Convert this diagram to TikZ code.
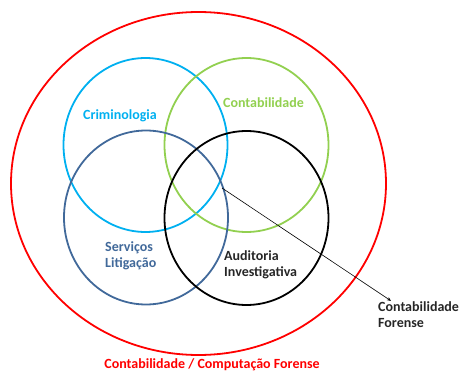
\documentclass[tikz,border=0pt]{standalone}
\usepackage{fontspec}
\setmainfont{Carlito}
\usepackage{xcolor}
\usetikzlibrary{arrows.meta}

\definecolor{crimcyan}{HTML}{00B0F0}
\definecolor{contgreen}{HTML}{92D050}
\definecolor{servblue}{HTML}{41699A}
\definecolor{forred}{HTML}{FF0000}

\begin{document}
\begin{tikzpicture}[x=1pt, y=-1pt,
		lbl/.style={font=\bfseries\fontsize{14}{16}\selectfont, inner sep=0pt, align=left}]

			\useasboundingbox (0,0) rectangle (459,372);

			% Draw outer ellipse.
			\draw[forred, line width=1.8pt] (198.5,183.5) ellipse (187.5 and 171.5);

			% Draw the four areas.
			\foreach \x/\y/\c in {145.5/145/crimcyan, 246.5/145/contgreen, 146/217.5/servblue, 246.5/218/black} {
				\draw[\c, line width=1.8pt] (\x,\y) ellipse (82 and 87);
			}

			% Labels.
			\node[lbl, text=crimcyan] (crim) at (120,116) {Criminologia};
			\node[lbl, text=contgreen] (cont) at (263.5,103) {Contabilidade};
			\node[lbl, text=servblue, anchor=west] (serv) at (105,256) {Serviços\\Litigação};
			\node[lbl, text=black!85, anchor=west] (audit) at (224,265) {Auditoria\\Investigativa};
			\node[lbl, text=black!85, anchor=west] (forense) at (378,315) {Contabilidade\\Forense};
			\node[lbl, text=forred] (total) at (212,365) {Contabilidade / Computação Forense};

			% Pointer to the centre.
			\coordinate (meet) at (222,188);
			\draw[line width=0.6pt, -{Stealth[length=4pt,width=3.5pt]}] (meet) -- ([xshift=13pt,yshift=1pt]forense.north west);

\end{tikzpicture}
\end{document}
